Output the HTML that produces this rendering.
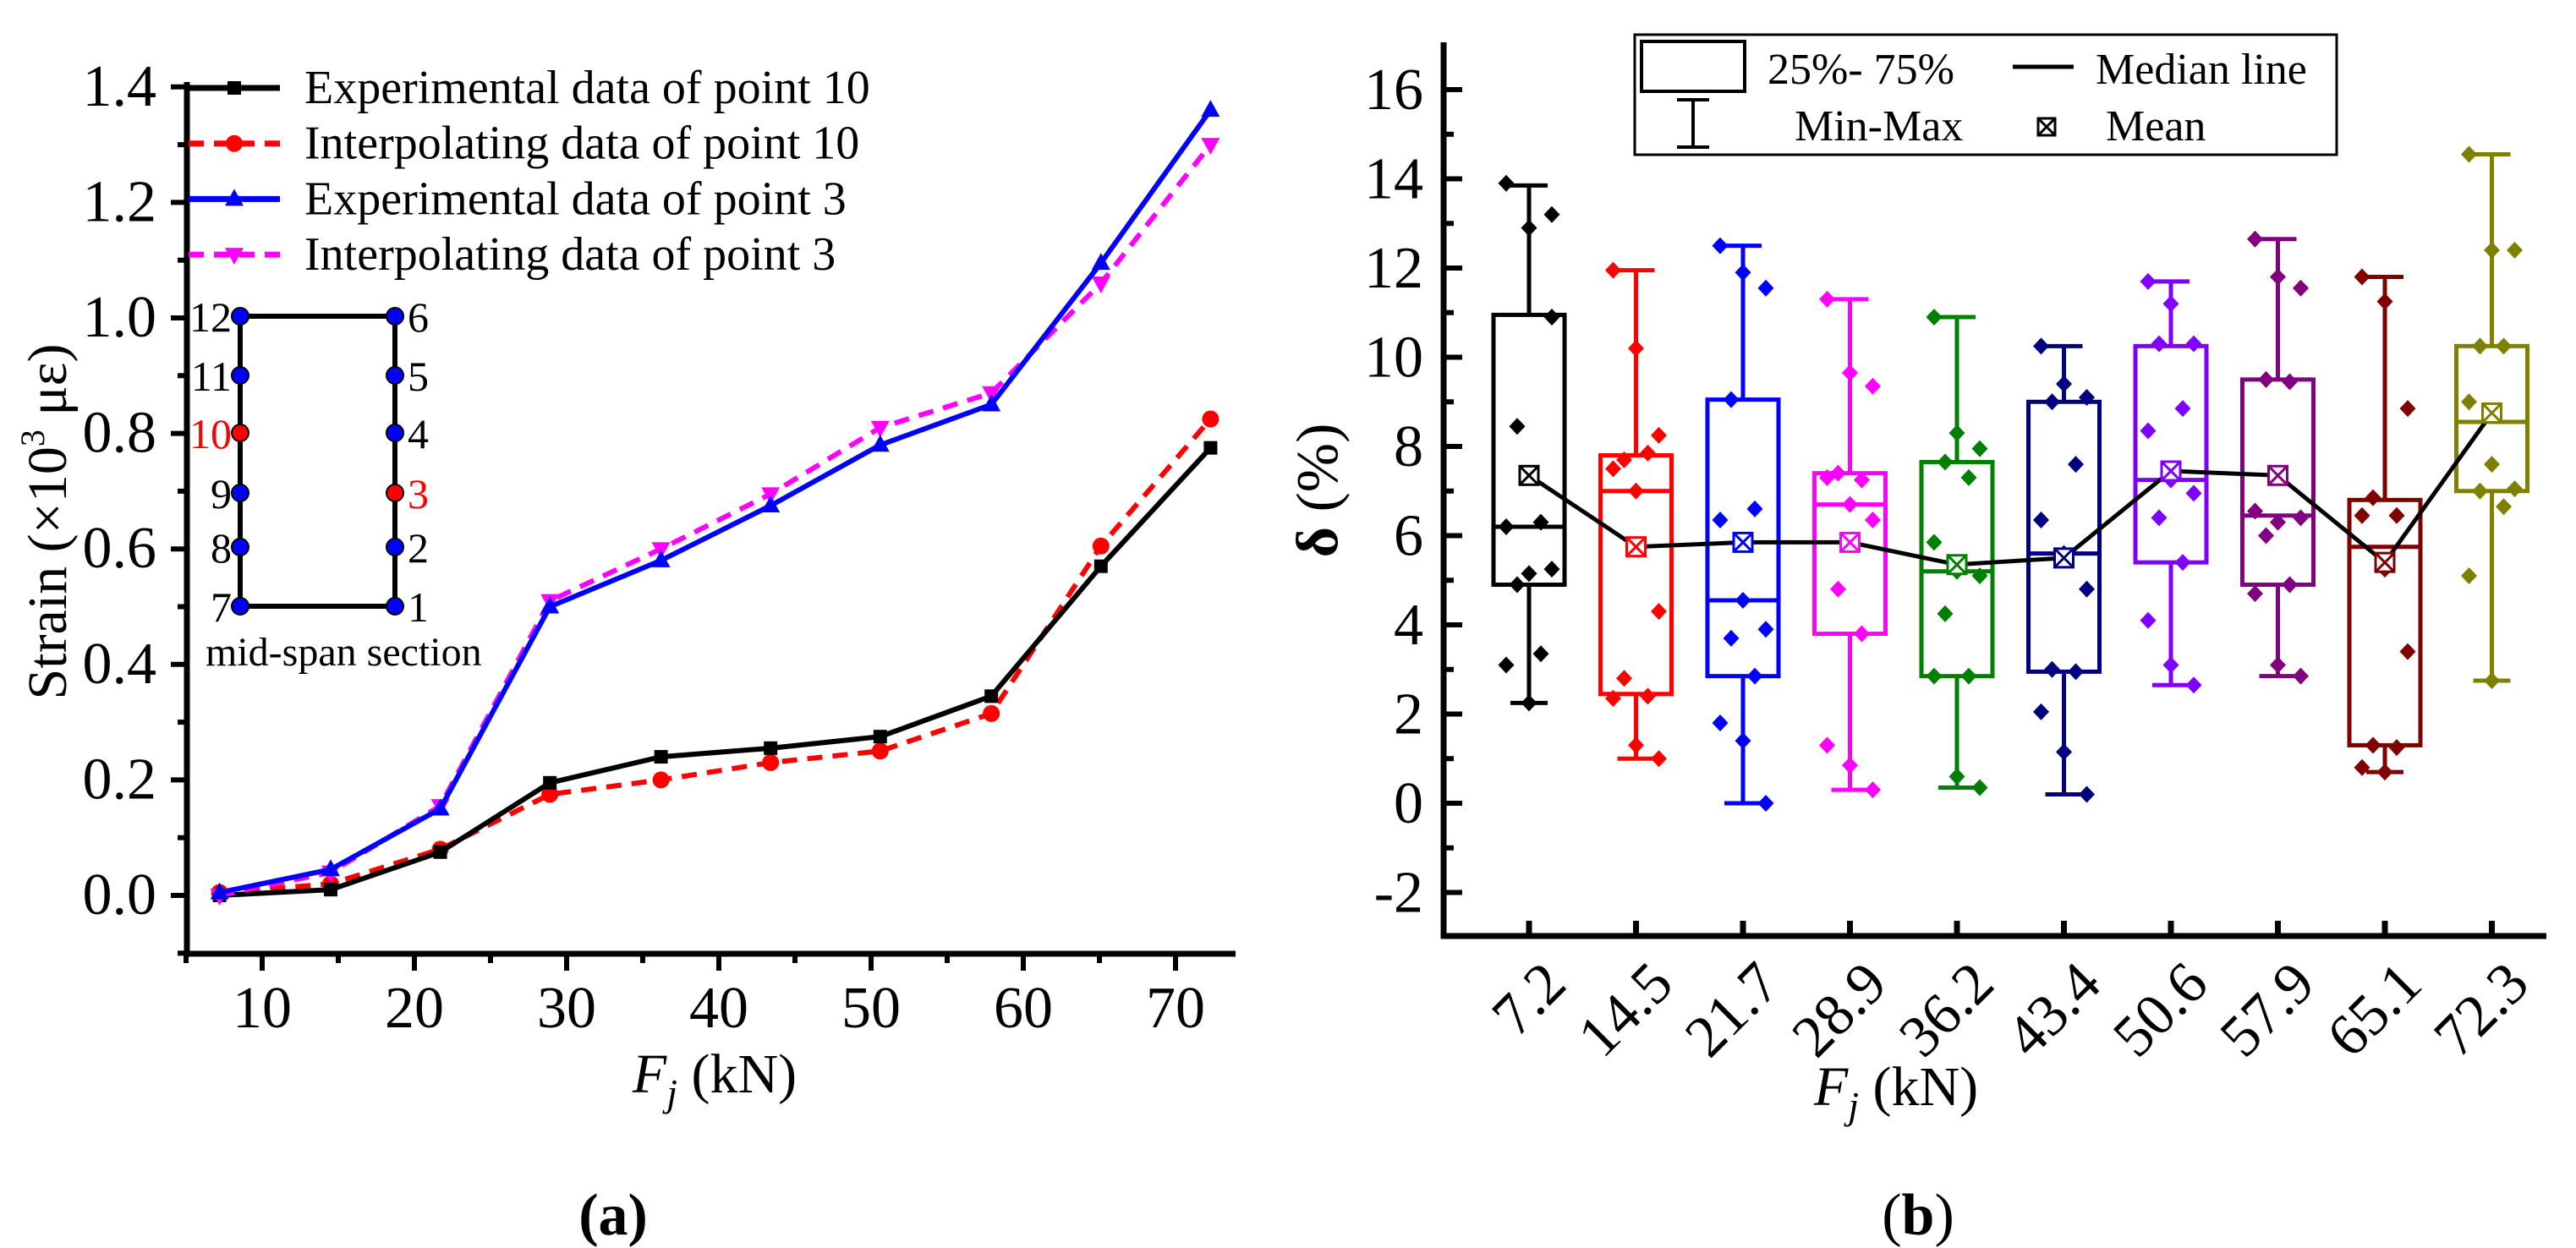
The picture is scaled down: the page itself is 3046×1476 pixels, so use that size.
<!DOCTYPE html>
<html><head><meta charset="utf-8"><style>
html,body{margin:0;padding:0;background:#fff;}
svg{display:block;}
text{font-family:"Liberation Serif",serif;}
</style></head><body>
<svg id="svg" width="3046" height="1476" viewBox="0 0 3046 1476" xmlns="http://www.w3.org/2000/svg" font-family="Liberation Serif, serif">
<g id="ga"></g>
<g id="gb"></g>
</svg>
<script>
// ---- Chart (a) data ----
const loadsA = [7.2,14.5,21.7,28.9,36.2,43.4,50.6,57.9,65.1,72.3];
const exp10 = [0.0,0.01,0.075,0.195,0.24,0.255,0.275,0.345,0.57,0.775];
const int10 = [0.005,0.02,0.08,0.175,0.2,0.23,0.25,0.315,0.605,0.825];
const exp3 = [0.005,0.045,0.15,0.5,0.58,0.675,0.78,0.85,1.095,1.36];
const int3 = [0.0,0.04,0.155,0.51,0.6,0.695,0.81,0.87,1.06,1.3];
const yTicksA = ["0.0","0.2","0.4","0.6","0.8","1.0","1.2","1.4"];
const xTicksA = [10,20,30,40,50,60,70];
const seriesNamesA = ["Experimental data of point 10","Interpolating data of point 10","Experimental data of point 3","Interpolating data of point 3"];
// ---- Chart (b) data ----
const catsB = ["7.2","14.5","21.7","28.9","36.2","43.4","50.6","57.9","65.1","72.3"];
const q1B = [4.9,2.45,2.85,3.8,2.85,2.95,5.4,4.9,1.3,7.0];
const q3B = [10.95,7.8,9.05,7.4,7.65,9.0,10.25,9.5,6.8,10.25];
const medB = [6.2,7.0,4.55,6.7,5.2,5.6,7.25,6.45,5.75,8.55];
const meanB = [7.35,5.75,5.85,5.85,5.35,5.5,7.45,7.35,5.4,8.75];
const minB = [2.25,1.0,0,0.3,0.35,0.2,2.65,2.85,0.7,2.75];
const maxB = [13.85,11.95,12.5,11.3,10.9,10.25,11.7,12.65,11.8,14.55];
const ptsB = [
 [13.9,12.9,10.9,8.45,6.3,6.2,5.15,5.25,4.9,3.35,3.1,2.25,13.2],
 [11.95,10.2,8.25,7.7,7.85,7.5,7.0,4.3,2.8,2.4,2.35,1.3,1.0],
 [12.5,11.9,11.55,9.05,6.6,6.35,4.55,3.9,3.7,2.85,1.8,1.4,0],
 [11.3,9.65,9.35,7.4,7.25,7.3,6.7,6.35,4.8,3.8,1.3,0.85,0.3],
 [10.9,8.3,7.95,7.65,7.3,5.85,5.2,5.1,4.25,2.85,2.85,0.6,0.35],
 [10.25,9.4,9.1,9.0,7.6,6.35,5.6,4.8,3.0,2.95,2.05,1.15,0.2],
 [11.7,11.2,10.3,10.3,8.85,8.35,7.25,6.95,6.4,5.4,4.1,3.1,2.65],
 [12.65,11.8,11.55,9.5,9.45,6.55,6.3,6.4,6.0,4.9,4.7,3.1,2.85],
 [11.8,11.25,8.85,6.85,6.45,6.45,5.25,3.4,1.3,1.25,0.8,0.7],
 [14.55,12.4,12.4,10.25,10.25,9.0,7.6,7.05,7.0,6.65,5.1,2.75]
];
const yTicksB = [-2,0,2,4,6,8,10,12,14,16];
const colorsB = ["#000000","#ff0000","#0000ff","#ff00ff","#008000","#000080","#8000ff","#800080","#800000","#808000"];

const NS="http://www.w3.org/2000/svg";
function mk(parent,tag,attrs,text){const e=document.createElementNS(NS,tag);for(const k in attrs)e.setAttribute(k,attrs[k]);if(tag==='text')e.setAttribute('font-family','Liberation Serif, serif');if(text!==undefined)e.textContent=text;parent.appendChild(e);return e;}

// ===== Chart A =====
const ga=document.getElementById('ga');
const xA=v=>310+(v-10)*18.0;
const yA=v=>1059-v*683;
const axL=221, axB=1128, axR=1461, axT=97;
let e;
e=mk(ga,'path',{d:`M${axL},${axT} V${axB} H${axR}`,fill:'none',stroke:'#000','stroke-width':7});

for(let k=-1;k<=14;k++){const v=k/10;const y=yA(v);const major=k%2===0;mk(ga,'line',{x1:axL-(major?19:11),x2:axL,y1:y,y2:y,stroke:'#000','stroke-width':6});}
yTicksA.forEach(t=>{e=mk(ga,'text',{x:185,y:yA(+t)+22,'font-size':70,'text-anchor':'end'},t);});
for(let v=5;v<=75;v+=5){const x=xA(v);if(x<axL-2||x>axR)continue;const major=v%10===0;mk(ga,'line',{x1:x,x2:x,y1:axB,y2:axB+(major?20:11),stroke:'#000','stroke-width':6});}
xTicksA.forEach(t=>{e=mk(ga,'text',{x:xA(t),y:1215,'font-size':70,'text-anchor':'middle'},t);});
e=mk(ga,'text',{x:0,y:0,'font-size':66,'text-anchor':'middle',transform:'translate(78,617) rotate(-90)'});
e.innerHTML='Strain (×10<tspan font-size="40" dy="-26">3</tspan><tspan dy="26"> με)</tspan>';

e=mk(ga,'text',{x:845,y:1292,'font-size':66,'text-anchor':'middle'});
e.innerHTML='<tspan font-style="italic">F</tspan><tspan font-style="italic" font-size="46" dy="16">j</tspan><tspan dy="-16"> (kN)</tspan>';

e=mk(ga,'text',{x:725,y:1460,'font-size':70,'font-weight':'bold','text-anchor':'middle'},'(a)');


function marker(g,type,x,y,c){
 if(type==='sq')return mk(g,'rect',{x:x-8,y:y-8,width:16,height:16,fill:c});
 if(type==='ci')return mk(g,'circle',{cx:x,cy:y,r:10,fill:c});
 if(type==='up')return mk(g,'path',{d:`M${x},${y-12} L${x+11},${y+8} L${x-11},${y+8}Z`,fill:c});
 return mk(g,'path',{d:`M${x},${y+12} L${x+11},${y-8} L${x-11},${y-8}Z`,fill:c});
}
const defsA=[[exp10,'#000','','sq','series-exp-point10'],[int10,'#ff0000','18,12','ci','series-interp-point10'],[exp3,'#0000ff','','up','series-exp-point3'],[int3,'#ff00ff','18,12','dn','series-interp-point3']];
[1,0,3,2].forEach(i=>{const d=defsA[i];const g=mk(ga,'g',{});
 mk(g,'polyline',{points:d[0].map((v,j)=>xA(loadsA[j])+','+yA(v)).join(' '),fill:'none',stroke:d[1],'stroke-width':6,'stroke-dasharray':d[2],'stroke-linejoin':'round'});
 d[0].forEach((v,j)=>{const m=marker(g,d[3],xA(loadsA[j]),yA(v),d[1]);});
});
const legA=mk(ga,'g',{});
seriesNamesA.forEach((n,i)=>{const d=defsA[i];const y=104+i*65.7;const g=mk(legA,'g',{});
 mk(g,'line',{x1:223,x2:331,y1:y,y2:y,stroke:d[1],'stroke-width':7,'stroke-dasharray':d[2]});marker(g,d[3],277,y,d[1]);
 mk(g,'text',{x:360,y:y+18,'font-size':56},n);});
const ins=mk(ga,'g',{});
mk(ins,'rect',{x:284,y:374,width:183,height:343,fill:'none',stroke:'#000','stroke-width':6});
const insY=[717,647,583,512,444,374];
const leftL=["7","8","9","10","11","12"],rightL=["1","2","3","4","5","6"];
insY.forEach((y,i)=>{
 const cl=leftL[i]==="10"?'#ff0000':'#0000ff',cr=rightL[i]==="3"?'#ff0000':'#0000ff';
 mk(ins,'circle',{cx:284,cy:y,r:10,fill:cl,stroke:'#000','stroke-width':2});
 mk(ins,'circle',{cx:467,cy:y,r:10,fill:cr,stroke:'#000','stroke-width':2});
 mk(ins,'text',{x:274,y:y+18,'font-size':50,'text-anchor':'end',fill:leftL[i]==="10"?'#ff0000':'#000'},leftL[i]);
 mk(ins,'text',{x:482,y:y+18,'font-size':50,fill:rightL[i]==="3"?'#ff0000':'#000'},rightL[i]);
});
mk(ins,'text',{x:243,y:787,'font-size':48},'mid-span section');

// ===== Chart B =====
const gb=document.getElementById('gb');
const xB=i=>1808+i*126.5;
const yB=v=>950-v*52.75;
const bL=1707,bB=1107,bR=3011,bT=50;
e=mk(gb,'path',{d:`M${bL},${bT} V${bB} H${bR}`,fill:'none',stroke:'#000','stroke-width':7});

for(let v=-3;v<=16;v++){const y=yB(v);if(y>bB||y<bT)continue;const major=v%2===0;mk(gb,'line',{x1:bL,x2:bL+(major?22:12),y1:y,y2:y,stroke:'#000','stroke-width':6});}
yTicksB.forEach(t=>{e=mk(gb,'text',{x:1683,y:yB(t)+23,'font-size':70,'text-anchor':'end'},t);});
catsB.forEach((c,i)=>{const x=xB(i);mk(gb,'line',{x1:x,x2:x,y1:bB,y2:bB-18,stroke:'#000','stroke-width':7});
 e=mk(gb,'text',{x:0,y:0,'font-size':70,'text-anchor':'end',transform:`translate(${x+47},${1167}) rotate(-45)`},c);
 });
e=mk(gb,'text',{x:2242,y:1307,'font-size':66,'text-anchor':'middle'});
e.innerHTML='<tspan font-style="italic">F</tspan><tspan font-style="italic" font-size="46" dy="16">j</tspan><tspan dy="-16"> (kN)</tspan>';

e=mk(gb,'text',{x:0,y:0,'font-size':70,'text-anchor':'middle',transform:'translate(1581,580) rotate(-90)'});
e.innerHTML='<tspan font-weight="bold">δ</tspan>  (%)';

e=mk(gb,'text',{x:2268,y:1460,'font-size':70,'text-anchor':'middle'});
e.innerHTML='(<tspan font-weight="bold">b</tspan>)';


const jit=[-27,0,27,-14,14,-27,0,27,-14,14,-27,0,27];
catsB.forEach((c,i)=>{const x=xB(i),col=colorsB[i];const g=mk(gb,'g',{});
 
 mk(g,'line',{x1:x,x2:x,y1:yB(maxB[i]),y2:yB(q3B[i]),stroke:col,'stroke-width':5});
 mk(g,'line',{x1:x,x2:x,y1:yB(q1B[i]),y2:yB(minB[i]),stroke:col,'stroke-width':5});
 mk(g,'line',{x1:x-22,x2:x+22,y1:yB(maxB[i]),y2:yB(maxB[i]),stroke:col,'stroke-width':5});
 mk(g,'line',{x1:x-22,x2:x+22,y1:yB(minB[i]),y2:yB(minB[i]),stroke:col,'stroke-width':5});
 mk(g,'rect',{x:x-42,y:yB(q3B[i]),width:84,height:yB(q1B[i])-yB(q3B[i]),fill:'none',stroke:col,'stroke-width':5});
 mk(g,'line',{x1:x-42,x2:x+42,y1:yB(medB[i]),y2:yB(medB[i]),stroke:col,'stroke-width':5});
 ptsB[i].forEach((v,k)=>{const px=x+jit[k%jit.length],py=yB(v);const p=mk(g,'path',{d:`M${px},${py-10} L${px+9.5},${py} L${px},${py+10} L${px-9.5},${py}Z`,fill:col});
  });
});
const ml=mk(gb,'polyline',{points:meanB.map((v,i)=>xB(i)+','+yB(v)).join(' '),fill:'none',stroke:'#000','stroke-width':5});

meanB.forEach((v,i)=>{const x=xB(i),y=yB(v),col=colorsB[i];const g=mk(gb,'g',{});
 
 mk(g,'rect',{x:x-11,y:y-11,width:22,height:22,fill:'#fff',stroke:col,'stroke-width':3});
 mk(g,'path',{d:`M${x-11},${y-11}L${x+11},${y+11}M${x+11},${y-11}L${x-11},${y+11}`,stroke:col,'stroke-width':3});});
const lb=mk(gb,'g',{});
mk(lb,'rect',{x:1933,y:41,width:830,height:142,fill:'#fff',stroke:'#000','stroke-width':3});
mk(lb,'rect',{x:1941,y:49,width:122,height:59,fill:'none',stroke:'#000','stroke-width':4});
mk(lb,'text',{x:2090,y:99,'font-size':52},'25%- 75%');
mk(lb,'line',{x1:2380,x2:2452,y1:79,y2:79,stroke:'#000','stroke-width':5});
mk(lb,'text',{x:2478,y:99,'font-size':52},'Median line');
mk(lb,'path',{d:'M1983,118 H2021 M2002,118 V174 M1983,174 H2021',stroke:'#000','stroke-width':4,fill:'none'});
mk(lb,'text',{x:2122,y:166,'font-size':52},'Min-Max');
mk(lb,'rect',{x:2410,y:140,width:20,height:20,fill:'none',stroke:'#000','stroke-width':3});
mk(lb,'path',{d:'M2410,140L2430,160M2430,140L2410,160',stroke:'#000','stroke-width':3});
mk(lb,'text',{x:2490,y:166,'font-size':52},'Mean');
</script>
</body></html>
